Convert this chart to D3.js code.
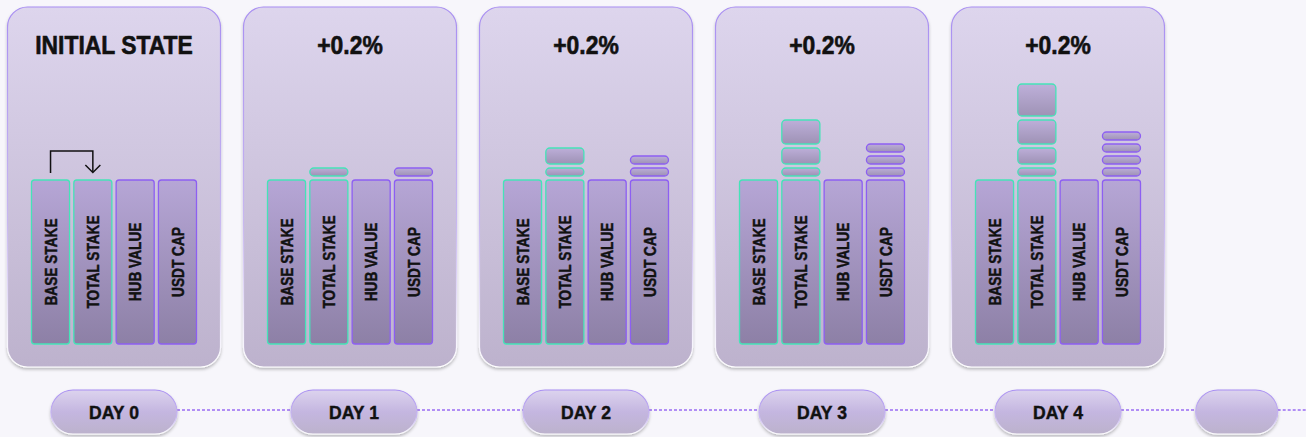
<!DOCTYPE html>
<html>
<head>
<meta charset="utf-8">
<script src="https://cdn.jsdelivr.net/npm/d3@7"></script>
<style>
  body { margin: 0; background: #f7f6fb; }
  svg { display: block; font-family: "Liberation Sans", Arial, sans-serif; }
  text { stroke: #111; stroke-width: 0.45px; }
</style>
</head>
<body>
<div class="chart"></div>
<script>
// data
var dayLabels = ['DAY 0', 'DAY 1', 'DAY 2', 'DAY 3', 'DAY 4', ''];
var cardTitles = ['INITIAL STATE', '+0.2%', '+0.2%', '+0.2%', '+0.2%'];
var columns = ['BASE STAKE', 'TOTAL STAKE', 'HUB VALUE', 'USDT CAP'];
var baseValue = 41;
// growth pieces stacked on top of the bars, one list per day
var totalStakeAdds = [[], [2], [2, 4], [2, 4, 6], [2, 4, 6, 8]];
var usdtCapAdds = [[], [2], [2, 2], [2, 2, 2], [2, 2, 2, 2]];

var width = 1306, height = 437;
var cardW = 213, cardTop = 7, cardBottom = 367;
var gap = 4;

var svg = d3.select('.chart')
    .append('svg')
    .attr('width', width)
    .attr('height', height)

var defs = svg.append('defs');
var g1 = defs.append('linearGradient').attr('id', 'cardFill').attr('x1', 0).attr('y1', 0).attr('x2', 0).attr('y2', 1);
g1.append('stop').attr('offset', '0%').attr('stop-color', '#ddd5ed');
g1.append('stop').attr('offset', '100%').attr('stop-color', '#bdb2cd');
var g2 = defs.append('linearGradient').attr('id', 'cardStroke').attr('x1', 0).attr('y1', 0).attr('x2', 0).attr('y2', 1);
g2.append('stop').attr('offset', '0%').attr('stop-color', '#a88ef2');
g2.append('stop').attr('offset', '60%').attr('stop-color', '#c8b8f0');
g2.append('stop').attr('offset', '100%').attr('stop-color', '#ffffff');
var g3 = defs.append('linearGradient').attr('id', 'barFill').attr('x1', 0).attr('y1', 0).attr('x2', 0).attr('y2', 1);
g3.append('stop').attr('offset', '0%').attr('stop-color', '#b6a6d6');
g3.append('stop').attr('offset', '100%').attr('stop-color', '#8d80a6');
var g4 = defs.append('linearGradient').attr('id', 'pillFill').attr('x1', 0).attr('y1', 0).attr('x2', 0).attr('y2', 1);
g4.append('stop').attr('offset', '0%').attr('stop-color', '#dcd3ee');
g4.append('stop').attr('offset', '50%').attr('stop-color', '#c4b6e0');
g4.append('stop').attr('offset', '100%').attr('stop-color', '#bcb2cc');
var f = defs.append('filter').attr('id', 'shadow').attr('x', '-10%').attr('y', '-10%').attr('width', '120%').attr('height', '125%');
f.append('feDropShadow').attr('dx', 0).attr('dy', 2).attr('stdDeviation', 1.5)
    .attr('flood-color', '#000').attr('flood-opacity', 0.25);

var cardX = d3.scaleLinear().domain([0, 1]).range([7.5, 243.5]);
var xScale = d3.scaleBand().domain(columns).range([24, 189]).paddingInner(0.1);
var yScale = d3.scaleLinear().domain([0, baseValue]).range([344, 180]);
var strokeFor = function (c) { return c === 'BASE STAKE' || c === 'TOTAL STAKE' ? '#45e3b8' : '#8d5ff2'; };

// timeline
var pillY = 412, pillH = 44;
var pillCenters = dayLabels.map(function (d, i) { return i < 5 ? cardX(i) + cardW / 2 + (i === 1 ? 4 : 0) : 1236.7; });
var pillW = dayLabels.map(function (d) { return d ? 126 : 82; });
var line = svg.append('g');
pillCenters.forEach(function (c, i) {
  var x1 = c + pillW[i] / 2;
  var x2 = i < pillCenters.length - 1 ? pillCenters[i + 1] - pillW[i + 1] / 2 : width;
  line.append('line')
    .attr('x1', x1).attr('x2', x2).attr('y1', 410).attr('y2', 410)
    .style('stroke', '#9a6cf3').style('stroke-width', 1.3).style('stroke-dasharray', '3,2');
});
var pills = svg.selectAll('.pill').data(dayLabels).enter().append('g')
    .attr('transform', function (d, i) { return 'translate(' + pillCenters[i] + ',' + pillY + ')'; });
pills.append('rect')
    .attr('x', function (d, i) { return -pillW[i] / 2; })
    .attr('y', -pillH / 2)
    .attr('width', function (d, i) { return pillW[i]; })
    .attr('height', pillH)
    .attr('rx', pillH / 2)
    .style('fill', 'url(#pillFill)')
    .style('stroke', 'url(#cardStroke)')
    .style('stroke-width', 1.2)
    .attr('filter', 'url(#shadow)');
pills.append('text')
    .attr('text-anchor', 'middle')
    .attr('y', 6.5)
    .attr('transform', 'scale(0.95,1)')
    .style('font-size', '18.5px').style('font-weight', 700).style('fill', '#111')
    .text(function (d) { return d; });

// cards
var cards = svg.selectAll('.card').data(cardTitles).enter().append('g')
    .attr('transform', function (d, i) { return 'translate(' + cardX(i) + ',0)'; });
cards.append('rect')
    .attr('y', cardTop)
    .attr('width', cardW)
    .attr('height', cardBottom - cardTop)
    .attr('rx', 20)
    .style('fill', 'url(#cardFill)')
    .style('stroke', 'url(#cardStroke)')
    .style('stroke-width', 1.2)
    .attr('filter', 'url(#shadow)');
cards.append('text')
    .attr('transform', 'translate(' + (cardW / 2) + ',53.5) scale(0.915,1)')
    .attr('text-anchor', 'middle')
    .style('font-size', '25px').style('font-weight', 700).style('fill', '#111')
    .style('stroke-width', '0.6px')
    .text(function (d) { return d; });

cards.each(function (t, day) {
  var card = d3.select(this);
  card.selectAll('.bar').data(columns).enter().append('rect')
      .attr('x', function (c) { return xScale(c); })
      .attr('y', yScale(baseValue))
      .attr('width', xScale.bandwidth())
      .attr('height', yScale(0) - yScale(baseValue))
      .attr('rx', 3)
      .style('fill', 'url(#barFill)')
      .style('stroke', strokeFor)
      .style('stroke-width', 1.3);
  card.selectAll('.lbl').data(columns).enter().append('text')
      .attr('transform', function (c) {
        return 'translate(' + (xScale(c) + xScale.bandwidth() / 2 + 6.2) + ',' + (yScale(baseValue / 2)) + ') rotate(-90) scale(0.855,1)';
      })
      .attr('text-anchor', 'middle')
      .style('font-size', '16px').style('font-weight', 700).style('fill', '#111')
      .text(function (c) { return c; });

  [['TOTAL STAKE', totalStakeAdds[day]], ['USDT CAP', usdtCapAdds[day]]].forEach(function (p) {
    var col = p[0], top = yScale(baseValue);
    p[1].forEach(function (v) {
      var h = yScale(0) - yScale(v);
      top = top - gap - h;
      card.append('rect')
          .attr('x', xScale(col))
          .attr('y', top)
          .attr('width', xScale.bandwidth())
          .attr('height', h)
          .attr('rx', 4)
          .style('fill', 'url(#barFill)')
          .style('fill-opacity', 0.75)
          .style('stroke', strokeFor(col))
          .style('stroke-width', 1.3);
    });
  });
});

// arrow on the first card
var a0 = cardX(0) + xScale('BASE STAKE') + xScale.bandwidth() / 2;
var a1 = cardX(0) + xScale('TOTAL STAKE') + xScale.bandwidth() / 2;
svg.append('path')
    .attr('d', 'M' + a0 + ',173 V151 H' + a1 + ' V172')
    .style('fill', 'none').style('stroke', '#111').style('stroke-width', 1.5);
svg.append('path')
    .attr('d', 'M' + (a1 - 7.5) + ',165 L' + a1 + ',172.5 L' + (a1 + 7.5) + ',165')
    .style('fill', 'none').style('stroke', '#111').style('stroke-width', 1.5);
</script>
</body>
</html>
